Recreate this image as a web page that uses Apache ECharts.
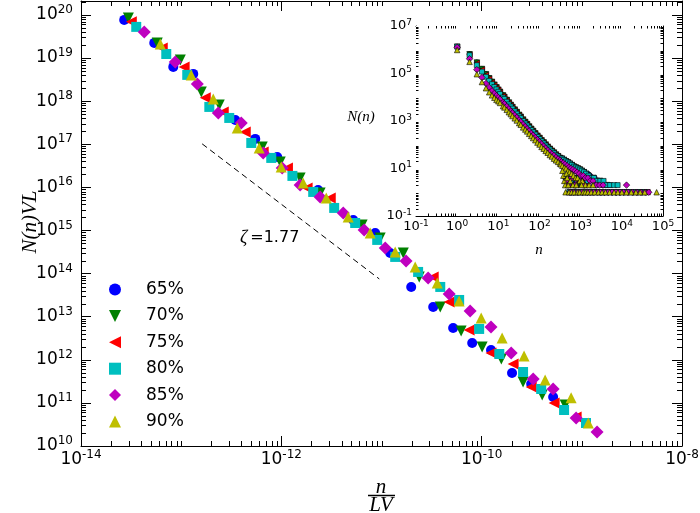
<!DOCTYPE html>
<html><head><meta charset="utf-8">
<script src="https://cdn.jsdelivr.net/npm/echarts/dist/echarts.min.js"></script>
<style>html,body{margin:0;padding:0;background:#fff}#c{width:700px;height:513px}</style>
</head><body><div id="c"></div><script>
// ---------- data ----------
const names = ['65%','70%','75%','80%','85%','90%'];
const colors = ['#0000ff','#008000','#ff0000','#00bfbf','#bf00bf','#bfbf00'];
const symbols = ['circle','path://M0,0L2,0L1,2Z','path://M2,0L2,2L0,1Z','rect','diamond','triangle'];
const mainSymSizes = [10,11,11,10,13,11];
const insetSymSizes = [5,5.5,5.5,5,6.5,5.5];

const main65 = [[2.70e-14,7.66e19],[5.39e-14,2.24e19],[8.34e-14,6.22e18],[1.32e-13,4.28e18],[3.47e-13,3.66e17],[5.49e-13,1.33e17],[9.10e-13,5.07e16],[2.33e-12,8.71e15],[5.22e-12,1.75e15],[8.65e-12,8.75e14],[1.22e-11,3.01e14],[1.98e-11,4.89e13],[3.28e-11,1.68e13],[5.19e-11,5.47e12],[8.04e-11,2.45e12],[1.24e-10,1.69e12],[2.01e-10,4.94e11],[3.12e-10,2.75e11],[5.17e-10,1.37e11]];
const main70 = [[2.97e-14,8.51e19],[5.77e-14,2.24e19],[9.80e-14,9.04e18],[1.59e-13,1.63e18],[2.40e-13,8.16e17],[6.45e-13,8.65e16],[9.75e-13,3.88e16],[1.54e-12,1.65e16],[2.44e-12,7.41e15],[6.41e-12,1.34e15],[9.70e-12,6.70e14],[1.65e-11,3.01e14],[2.38e-11,8.34e13],[3.86e-11,1.68e13],[6.24e-11,4.66e12],[1.01e-10,1.98e12],[1.57e-10,1.04e12],[2.59e-10,3.05e11],[4.02e-10,1.52e11],[6.81e-10,8.94e10]];
const main75 = [[3.18e-14,6.89e19],[6.47e-14,1.71e19],[1.07e-13,6.22e18],[1.74e-13,1.19e18],[2.63e-13,5.61e17],[4.36e-13,1.93e17],[6.59e-13,6.62e16],[1.15e-12,2.82e16],[1.81e-12,9.68e15],[3.08e-12,5.68e15],[3.28e-11,8.34e13],[4.74e-11,2.19e13],[7.50e-11,4.91e12],[1.24e-10,1.44e12],[2.06e-10,8.00e11],[3.12e-10,2.34e11],[5.29e-10,9.95e10],[8.77e-10,4.71e10]];
const main80 = [[3.56e-14,5.27e19],[7.10e-14,1.24e19],[1.15e-13,4.06e18],[1.91e-13,7.33e17],[3.02e-13,4.07e17],[5.01e-13,1.07e17],[7.93e-13,4.81e16],[1.29e-12,1.84e16],[2.08e-12,7.82e15],[3.37e-12,3.33e15],[5.46e-12,1.49e15],[9.06e-12,6.03e14],[1.37e-11,2.43e14],[2.32e-11,1.09e14],[3.86e-11,4.89e13],[5.96e-11,2.44e13],[9.44e-11,5.19e12],[1.50e-10,1.36e12],[2.59e-10,5.21e11],[3.93e-10,2.10e11],[6.65e-10,6.84e10],[1.10e-9,3.42e10]];
const main85 = [[4.28e-14,4.03e19],[8.73e-14,8.11e18],[1.45e-13,2.51e18],[2.35e-13,5.32e17],[3.98e-13,3.12e17],[6.59e-13,6.28e16],[1.02e-12,2.82e16],[1.54e-12,1.14e16],[2.44e-12,5.98e15],[4.15e-12,2.55e15],[6.71e-12,1.03e15],[1.09e-11,3.93e14],[1.76e-11,1.96e14],[2.92e-11,7.91e13],[4.74e-11,3.37e13],[7.67e-11,1.36e13],[1.24e-10,5.77e12],[1.97e-10,1.44e12],[3.27e-10,3.59e11],[5.17e-10,2.10e11],[8.77e-10,4.47e10],[1.42e-9,2.11e10]];
const main90 = [[6.18e-14,2.12e19],[1.26e-13,4.06e18],[2.09e-13,1.12e18],[3.63e-13,2.39e17],[6.01e-13,8.20e16],[9.97e-13,2.97e16],[1.65e-12,1.26e16],[2.81e-12,5.68e15],[4.65e-12,2.06e15],[7.71e-12,8.75e14],[1.37e-11,3.17e14],[2.17e-11,1.42e14],[3.60e-11,6.05e13],[5.96e-11,2.31e13],[9.89e-11,9.33e12],[1.60e-10,3.21e12],[2.65e-10,1.22e12],[4.30e-10,3.40e11],[7.82e-10,1.32e11],[1.16e-9,3.42e10]];
const mainData = [main65, main70, main75, main80, main85, main90];

const slopeLine = [[1.62e-13,1.02e17],[9.5e-12,7.5e13]];

// inset: cluster size n and count N(n)
const insetSizes = [1,2,3,4,5,6,7,8,9,10,11,13,14,16,18,20,22,25,28,32,35,40,45,50,56,63,70,79,89,100,112,126,141,158,178,200,224,251,282,316];
const inset65 = [1.35e6,6.61e5,2.95e5,1.58e5,9.55e4,6.46e4,4.57e4,3.47e4,2.69e4,2.14e4,1.74e4,1.23e4,1.05e4,7940,6170,4900,3980,3090,2455,1862,1549,1175,933,759,603,479,389,309,245,200,158,129,105,85,69,58,48,40,34,29];
const inset70 = [1.35e6,6.46e5,2.88e5,1.55e5,9.33e4,6.31e4,4.47e4,3.39e4,2.63e4,2.09e4,1.70e4,1.20e4,1.02e4,7760,6030,4790,3890,3020,2400,1820,1510,1150,912,741,589,468,380,302,240,195,155,126,102,83,68,56,47,39,33,28];
const inset75 = [1.32e6,6.17e5,2.75e5,1.48e5,8.91e4,6.03e4,4.27e4,3.24e4,2.51e4,2.00e4,1.62e4,1.15e4,9770,7410,5750,4570,3720,2880,2290,1740,1450,1100,871,708,562,447,363,288,229,186,148,120,98,79,65,54,45,37,32,27];
const inset80 = [1.35e6,5.89e5,2.24e5,1.20e5,7.24e4,4.90e4,3.55e4,2.69e4,2.14e4,1.70e4,1.38e4,9770,8510,6460,5010,4070,3310,2570,2040,1580,1320,1000,794,646,525,417,339,269,214,174,141,115,93,76,63,52,44,36,32,27];
const inset85 = [1.26e6,4.17e5,1.45e5,6.76e4,3.80e4,2.57e4,1.86e4,1.45e4,1.17e4,9770,8130,6030,5250,4070,3240,2630,2190,1740,1410,1100,933,708,575,468,380,302,251,200,162,132,107,87,72,59,49,41,35,29,25,22];
const inset90 = [9.77e5,3.09e5,9.33e4,4.37e4,2.40e4,1.62e4,1.20e4,9550,7760,6760,5750,4270,3720,2950,2340,1950,1620,1290,1050,813,692,537,437,363,288,234,191,155,123,102,81,68,55,46,37,32,26,22,19,16];
const tail65 = [[350,27],[390,24],[430,21],[480,19],[530,17],[590,15],[650,13],[720,12],[800,11],[880,10],[970,9],[1080,8],[1200,7],[1350,6],[1500,6],[1700,5],[1900,4],[2200,4],[2500,3],[2900,3],[3400,2],[4200,2],[5200,2],[420,4],[480,3],[520,2],[560,5],[600,1],[640,3],[700,2],[760,1],[820,4],[900,2],[960,1],[1050,3],[1150,1],[1300,2],[1450,1],[1600,3],[1900,1],[2100,2],[2400,1],[2800,1],[3300,1],[3900,1],[4800,1],[6000,1],[7500,1],[9500,1],[12000,1],[15000,1],[19000,1],[24000,1],[31000,1],[40000,1]];
const tail70 = [[350,26],[395,23],[440,20],[490,18],[545,16],[610,14],[680,12],[760,11],[850,10],[955,9],[1070,8],[1200,7],[1360,6],[1540,5],[1750,4],[2050,4],[2450,3],[2950,3],[3600,2],[4400,2],[490,3],[540,1],[590,2],[650,1],[730,4],[810,1],[910,2],[1020,1],[1150,3],[1300,1],[1480,2],[1680,1],[1950,1],[2350,1],[2850,1],[3450,1],[4300,1],[5300,1],[6500,1],[8100,1],[10000,1],[12500,1],[16000,1],[20500,1],[26500,1],[33000,1],[41000,1]];
const tail75 = [[345,26],[385,23],[430,20],[480,18],[535,16],[600,14],[670,12],[750,11],[840,10],[940,9],[1050,8],[1180,7],[1330,6],[1500,5],[1700,4],[2000,4],[2400,3],[2900,2],[3500,2],[470,2],[510,1],[570,3],[620,1],[690,2],[780,1],[870,3],[980,1],[1100,2],[1250,1],[1420,2],[1600,1],[1900,1],[2300,1],[2800,1],[3400,1],[4200,1],[5100,1],[6300,1],[7800,1],[9700,1],[12000,1],[15500,1],[20000,1],[26000,1],[34000,1],[42000,1]];
const tail80 = [[350,26],[390,23],[440,20],[490,18],[550,16],[610,14],[680,12],[760,11],[850,10],[950,9],[1060,8],[1200,7],[1350,6],[1550,5],[1800,4],[2100,4],[2500,3],[3000,3],[3600,3],[4300,2],[5200,2],[6500,2],[7900,2],[480,2],[530,1],[580,3],[640,1],[720,2],[800,1],[900,4],[1000,1],[1130,2],[1280,1],[1450,3],[1650,1],[2000,1],[2400,2],[2900,1],[3500,1],[4300,1],[5300,1],[6600,1],[8200,1],[10000,1],[13000,1],[16000,1],[21000,1],[27000,1],[35000,1]];
const tail85 = [[340,19],[380,17],[420,15],[470,13],[520,11],[580,10],[650,9],[730,8],[820,7],[920,6],[1030,5],[1160,5],[1300,4],[1500,4],[1700,3],[2000,3],[2400,2],[2900,2],[3500,2],[13000,2],[450,3],[500,2],[550,1],[600,4],[680,1],[750,2],[850,1],[980,3],[1100,1],[1250,2],[1450,1],[1700,1],[2100,1],[2600,1],[3100,1],[3800,1],[4700,1],[5800,1],[7200,1],[9000,1],[11000,1],[14000,1],[18000,1],[23000,1],[29000,1],[37000,1],[45000,1]];
const tail90 = [[330,15],[360,13],[400,11],[440,10],[490,8],[540,7],[600,6],[670,5],[750,4],[840,4],[950,3],[1100,3],[1300,2],[1600,2],[2000,2],[360,8],[380,5],[400,3],[420,2],[430,1],[450,6],[470,4],[500,2],[520,1],[560,3],[600,1],[650,2],[700,1],[780,2],[850,1],[950,1],[1050,2],[1150,1],[1300,1],[1500,1],[1800,1],[2200,1],[2700,1],[3300,1],[4000,1],[5000,1],[6500,1],[8000,1],[10000,1],[13000,1],[17000,1],[22000,1],[28000,1],[36000,1],[70000,1]];
const insetCounts = [inset65, inset70, inset75, inset80, inset85, inset90];
const insetTails = [tail65, tail70, tail75, tail80, tail85, tail90];

// axis ranges
const mainX = [1e-14, 1e-8], mainY = [1e10, 2.1e20];
const insX = [0.1, 1e5], insY = [0.1, 1e7];

// ---------- helpers ----------
const FONT = 'DejaVu Sans';
function supRich(fs, sfs, lh){
  return {b:{fontSize:fs,fontFamily:FONT,color:'#000',lineHeight:lh},
          s:{fontSize:sfs,fontFamily:FONT,color:'#000',lineHeight:sfs,verticalAlign:'top'}};
}
function powFmt(filter){
  return function(v){
    const l = Math.log10(v), e = Math.round(l);
    if (Math.abs(l-e) > 1e-6) return '';
    if (filter && !filter(e)) return '';
    return '{b|10}{s|' + e + '}';
  };
}
function minorVals(k0, k1, ext, incl){
  const out = [];
  for (let k=k0;k<=k1;k++) for (let m=1;m<=9;m++){
    if (m===1 && !(incl && incl(k))) continue;
    const v = m*Math.pow(10,k);
    if (v >= ext[0]*0.9999 && v <= ext[1]*1.0001) out.push(v);
  }
  return out;
}
function tickSeries(xi, yi, dir, vals, ext, len){
  return {
    type:'custom', xAxisIndex:xi, yAxisIndex:yi, silent:true, clip:false, z:6,
    data: vals.map(v => dir==='x' ? [v, ext[0]] : [ext[0], v]),
    renderItem: function(params, api){
      const st = {stroke:'#000', lineWidth:1};
      if (dir==='x'){
        const v = api.value(0);
        const a = api.coord([v, ext[0]]), b = api.coord([v, ext[1]]);
        const x = Math.round(a[0]) + 0.5;
        return {type:'group', children:[
          {type:'line', shape:{x1:x,y1:a[1],x2:x,y2:a[1]-len}, style:st},
          {type:'line', shape:{x1:x,y1:b[1],x2:x,y2:b[1]+len}, style:st}]};
      } else {
        const v = api.value(1);
        const a = api.coord([ext[0], v]), b = api.coord([ext[1], v]);
        const y = Math.round(a[1]) + 0.5;
        return {type:'group', children:[
          {type:'line', shape:{x1:a[0],y1:y,x2:a[0]+len,y2:y}, style:st},
          {type:'line', shape:{x1:b[0],y1:y,x2:b[0]-len,y2:y}, style:st}]};
      }
    }
  };
}
function axis(opts){
  const o = {
    type:'log', gridIndex:opts.grid, min:opts.ext[0], max:opts.ext[1], logBase:opts.base||10,
    position:opts.pos, scale:false,
    axisLine:{show:true,onZero:false,lineStyle:{color:'#000',width:1}},
    axisTick:{show:true,inside:true,length:opts.tick,lineStyle:{color:'#000',width:1}},
    minorTick:{show:false}, splitLine:{show:false}, minorSplitLine:{show:false},
    axisLabel:{show:!!opts.label, formatter:opts.fmt, rich:opts.rich, margin:opts.margin||8,
      showMinLabel:true, showMaxLabel:true, hideOverlap:false}
  };
  if (opts.interval) o.interval = opts.interval;
  return o;
}

// ---------- option ----------
const series = [];
names.forEach((nm,i)=>{
  series.push({name:nm, type:'scatter', xAxisIndex:0, yAxisIndex:0, data:mainData[i],
    symbol:symbols[i], symbolSize:mainSymSizes[i],
    itemStyle:{color:colors[i], opacity:1}, z:3});
});
series.push({type:'line', xAxisIndex:0, yAxisIndex:0, data:slopeLine, symbol:'none', silent:true,
  lineStyle:{color:'#000', width:1, type:[6,4]}, z:2});
names.forEach((nm,i)=>{
  const d = insetSizes.map((n,j)=>[n, insetCounts[i][j]]).filter(p=>p[1]!=null).concat(insetTails[i]);
  series.push({name:nm+' ', type:'scatter', xAxisIndex:2, yAxisIndex:2, data:d,
    symbol:symbols[i], symbolSize:insetSymSizes[i],
    itemStyle:{color:colors[i], borderColor:'#000', borderWidth:0.6, opacity:1}, z:3});
});
series.push(tickSeries(0,0,'x', minorVals(-14,-9,mainX,k=>k%2!==0), mainY, 5));
series.push(tickSeries(0,0,'y', minorVals(10,20,mainY), mainX, 5));
series.push(tickSeries(2,2,'x', minorVals(-1,4,insX), insY, 2.5));
series.push(tickSeries(2,2,'y', minorVals(-1,6,insY), insX, 2.5));

const mainRich = supRich(17, 12, 22);
const insRich = supRich(13, 9, 16);

const option = {
  animation:false,
  backgroundColor:'#fff',
  grid:[
    {left:81, right:18, top:1, bottom:67, show:false, containLabel:false, outerBoundsMode:'none'},
    {left:416, right:37, top:26, bottom:297, show:true, backgroundColor:'#fff', borderWidth:0, containLabel:false, outerBoundsMode:'none', z:1}
  ],
  xAxis:[
    axis({grid:0, ext:mainX, base:100, pos:'bottom', tick:10, label:true, fmt:powFmt(), rich:mainRich, margin:3}),
    axis({grid:0, ext:mainX, base:100, pos:'top', tick:10, label:false}),
    axis({grid:1, ext:insX, pos:'bottom', tick:5, label:true, fmt:powFmt(), rich:insRich, margin:3}),
    axis({grid:1, ext:insX, pos:'top', tick:5, label:false})
  ],
  yAxis:[
    axis({grid:0, ext:mainY, pos:'left', tick:10, label:true, fmt:powFmt(), rich:mainRich, margin:8, interval:1}),
    axis({grid:0, ext:mainY, pos:'right', tick:10, label:false, interval:1}),
    axis({grid:1, ext:insY, pos:'left', tick:5, label:true, fmt:powFmt(e=>Math.abs(e)%2===1), rich:insRich, margin:4}),
    axis({grid:1, ext:insY, pos:'right', tick:5, label:false})
  ],
  legend:{data:names, orient:'vertical', left:104, top:276, itemWidth:12, itemHeight:12, itemGap:9.4,
    textStyle:{fontSize:17, fontFamily:FONT, color:'#000', lineHeight:14, padding:[0,0,0,20]},
    selectedMode:false, backgroundColor:'transparent', borderWidth:0},
  graphic:[
    {type:'text', x:30, y:222, rotation:Math.PI/2, style:{text:'N(n)VL', font:'italic 21px "Liberation Serif"', fill:'#000', align:'center', verticalAlign:'middle'}},
    {type:'text', x:381, y:487, style:{text:'n', font:'italic 21px "Liberation Serif"', fill:'#000', align:'center', verticalAlign:'middle'}},
    {type:'line', shape:{x1:368, y1:495.5, x2:395, y2:495.5}, style:{stroke:'#000', lineWidth:1.5}},
    {type:'text', x:381, y:505, style:{text:'LV', font:'italic 21px "Liberation Serif"', fill:'#000', align:'center', verticalAlign:'middle'}},
    {type:'text', x:240, y:238, style:{text:'{z|ζ}{t|=1.77}', verticalAlign:'middle',
      rich:{z:{font:'italic 18px "Liberation Serif"', fill:'#000', padding:[0,3,0,0]}, t:{fontSize:16, fontFamily:FONT, fill:'#000'}}}},
    {type:'text', x:361, y:117, style:{text:'N(n)', font:'italic 15px "Liberation Serif"', fill:'#000', align:'center', verticalAlign:'middle'}},
    {type:'text', x:539, y:250, style:{text:'n', font:'italic 15px "Liberation Serif"', fill:'#000', align:'center', verticalAlign:'middle'}}
  ],
  series: series
};
const chart = echarts.init(document.getElementById('c'));
chart.setOption(option);
</script></body></html>
